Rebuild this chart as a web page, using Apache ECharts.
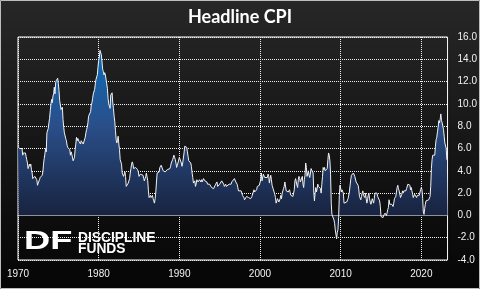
<!DOCTYPE html>
<html><head><meta charset="utf-8">
<script src="https://cdn.jsdelivr.net/npm/echarts@6/dist/echarts.min.js"></script>
<style>html,body{margin:0;padding:0;background:#000}#c{width:480px;height:289px;background:linear-gradient(#272727,#050505)}</style>
</head><body><div id="c"></div>
<script>
// Headline CPI, year-over-year %, monthly from Jan 1970
const startYear = 1970;
const cpi1970s = [
 6.2,6.1,6.0,6.1,6.0,6.0,6.0,5.4,5.6,5.6,5.7,5.6,
 5.3,5.0,4.7,4.2,4.4,4.6,4.4,4.6,4.1,3.8,3.3,3.3,
 3.3,3.5,3.5,3.5,3.2,2.7,2.9,2.9,3.2,3.4,3.5,3.4,
 3.6,3.9,4.6,5.1,5.5,6.0,5.7,7.4,7.4,7.8,8.3,8.7,
 9.4,10.0,10.4,10.1,10.7,10.9,11.5,10.9,11.9,12.1,12.2,12.3,
 11.8,11.2,10.3,10.2,9.5,9.4,9.7,8.6,7.9,7.4,7.4,6.9,
 6.7,6.3,6.1,6.0,6.2,5.9,5.4,5.7,5.5,5.5,4.9,4.9,
 5.2,5.9,6.4,7.0,6.7,6.9,6.8,6.6,6.6,6.4,6.7,6.7,
 6.8,6.4,6.4,6.5,7.0,7.4,7.7,7.9,8.3,8.9,8.9,9.0,
 9.3,9.9,10.1,10.5,10.9,10.9,11.3,11.8,12.2,12.1,12.6,13.3];
const cpi1980s = [
 13.9,14.2,14.8,14.7,14.4,14.4,13.1,12.9,12.6,12.8,12.6,12.5,
 11.8,11.4,10.5,10.0,9.8,9.6,10.8,10.8,11.0,10.1,9.6,8.9,
 8.4,7.6,6.8,6.5,6.7,7.1,6.4,5.9,5.0,5.1,4.6,3.8,
 3.7,3.5,3.6,3.9,3.5,2.6,2.5,2.6,2.9,2.9,3.3,3.8,
 4.2,4.6,4.8,4.6,4.2,4.2,4.2,4.3,4.3,4.3,4.1,3.9,
 3.5,3.5,3.7,3.7,3.8,3.8,3.6,3.3,3.1,3.2,3.5,3.8,
 3.9,3.1,2.2,1.6,1.5,1.8,1.6,1.6,1.8,1.5,1.3,1.1,
 1.5,2.1,3.0,3.8,3.9,3.7,3.9,4.3,4.4,4.5,4.5,4.4,
 4.0,3.9,3.9,3.9,3.9,4.0,4.1,4.0,4.2,4.2,4.2,4.4,
 4.7,4.8,5.0,5.1,5.4,5.2,5.0,4.7,4.3,4.5,4.7,4.6];
const cpi1990s = [
 5.2,5.3,5.2,4.7,4.4,4.7,4.8,5.6,6.2,6.3,6.3,6.1,
 5.7,5.3,4.9,4.9,5.0,4.7,4.4,3.8,3.4,2.9,3.0,3.1,
 2.6,2.8,3.2,3.2,3.0,3.1,3.2,3.1,3.0,3.2,3.0,2.9,
 3.3,3.2,3.1,3.2,3.2,3.0,2.8,2.8,2.7,2.8,2.7,2.7,
 2.5,2.5,2.5,2.4,2.3,2.5,2.8,2.9,3.0,2.6,2.7,2.7,
 2.8,2.9,2.9,3.1,3.2,3.0,2.8,2.6,2.5,2.8,2.6,2.5,
 2.7,2.7,2.8,2.9,2.9,2.8,3.0,2.9,3.0,3.0,3.3,3.3,
 3.0,3.0,2.8,2.5,2.2,2.3,2.2,2.2,2.2,2.1,1.8,1.7,
 1.6,1.4,1.4,1.4,1.7,1.7,1.7,1.6,1.5,1.5,1.5,1.6,
 1.7,1.6,1.7,2.3,2.1,2.0,2.1,2.3,2.6,2.6,2.6,2.7];
const cpi2000s = [
 2.7,3.2,3.8,3.1,3.2,3.7,3.7,3.4,3.5,3.4,3.4,3.4,
 3.7,3.5,2.9,3.3,3.6,3.2,2.7,2.7,2.6,2.1,1.9,1.6,
 1.1,1.1,1.5,1.6,1.2,1.1,1.5,1.8,1.5,2.0,2.2,2.4,
 2.6,3.0,3.0,2.2,2.1,2.1,2.1,2.2,2.3,2.0,1.8,1.9,
 1.9,1.7,1.7,2.3,3.1,3.3,3.0,2.7,2.5,3.2,3.5,3.3,
 3.0,3.0,3.1,3.5,2.8,2.5,3.2,3.6,4.7,4.3,3.5,3.4,
 4.0,3.6,3.4,3.5,4.2,4.3,4.1,3.8,2.1,1.3,2.0,2.5,
 2.1,2.4,2.8,2.6,2.7,2.7,2.4,2.0,2.8,3.5,4.3,4.1,
 4.3,4.0,4.0,3.9,4.2,5.0,5.6,5.4,4.9,3.7,1.1,0.1,
 0.0,0.2,-0.4,-0.7,-1.3,-1.4,-2.1,-1.5,-1.3,-0.2,1.8,2.7];
const cpi2010s = [
 2.6,2.1,2.3,2.2,2.0,1.1,1.2,1.1,1.1,1.2,1.1,1.5,
 1.6,2.1,2.7,3.2,3.6,3.6,3.6,3.8,3.9,3.5,3.4,3.0,
 2.9,2.9,2.7,2.3,1.7,1.7,1.4,1.7,2.0,2.2,1.8,1.7,
 1.6,2.0,1.5,1.1,1.4,1.8,2.0,1.5,1.2,1.0,1.2,1.5,
 1.6,1.1,1.5,2.0,2.1,2.1,2.0,1.7,1.7,1.7,1.3,0.8,
 -0.1,0.0,-0.1,-0.2,0.0,0.1,0.2,0.2,0.0,0.2,0.5,0.7,
 1.4,1.0,0.9,1.1,1.0,1.0,0.8,1.1,1.5,1.6,1.7,2.1,
 2.5,2.7,2.4,2.2,1.9,1.6,1.7,1.9,2.2,2.0,2.2,2.1,
 2.1,2.2,2.4,2.5,2.8,2.9,2.9,2.7,2.3,2.5,2.2,1.9,
 1.6,1.5,1.9,2.0,1.8,1.6,1.8,1.7,1.7,1.8,2.1,2.3];
const cpi2020s = [
 2.5,2.3,1.5,0.3,0.1,0.6,1.0,1.3,1.4,1.2,1.2,1.4,
 1.4,1.7,2.6,4.2,5.0,5.4,5.4,5.3,5.4,6.2,6.8,7.0,
 7.5,7.9,8.5,8.3,8.6,9.1,8.5,8.3,8.2,7.7,7.1,6.5,
 6.4,6.0,5.0,4.9];
const yMin = -4, yMax = 16, yStep = 2;
const xTickStep = 10;
const titleText = 'Headline CPI';
const logoMark = 'DF';
const logoLine1 = 'DISCIPLINE';
const logoLine2 = 'FUNDS';

const allValues = [].concat(cpi1970s, cpi1980s, cpi1990s, cpi2000s, cpi2010s, cpi2020s);
const seriesData = allValues.map((v, i) => [startYear + i / 12, v]);
const xMax = startYear + (allValues.length - 1) / 12;

const chart = echarts.init(document.getElementById('c'), null, {renderer: 'canvas'});
const labelFont = '"Liberation Sans", Arial, sans-serif';
chart.setOption({
  animation: false,
  title: {
    text: titleText, left: 'center', top: 3,
    textStyle: {color: '#ffffff', fontSize: 18, fontWeight: 'bold', fontFamily: 'Lato, "Liberation Sans", sans-serif'}
  },
  grid: {left: 18, right: 31, top: 37, bottom: 29, show: true, borderColor: '#ffffff', borderWidth: 1, backgroundColor: 'transparent'},
  xAxis: {
    type: 'value', min: startYear, max: xMax, interval: xTickStep,
    axisLine: {show: true, onZero: true, lineStyle: {color: '#ffffff', width: 1}},
    axisTick: {show: false},
    splitLine: {show: true, lineStyle: {color: '#f0f0f0', type: [1, 1], width: 1}},
    axisLabel: {color: '#f2f2f2', fontSize: 10, fontFamily: labelFont, margin: 9, showMaxLabel: false,
      formatter: v => (Math.abs(v % xTickStep) < 1e-6 ? String(v) : '')}
  },
  yAxis: {
    type: 'value', position: 'right', min: yMin, max: yMax, interval: yStep,
    axisLine: {show: false}, axisTick: {show: false},
    splitLine: {show: true, lineStyle: {color: '#f0f0f0', type: [1, 1], width: 1}},
    axisLabel: {color: '#f2f2f2', fontSize: 10, fontFamily: labelFont, margin: 10, formatter: v => v.toFixed(1)}
  },
  series: [{
    type: 'line', data: seriesData, showSymbol: false, symbol: 'none',
    lineStyle: {color: '#f2f2f2', width: 1},
    areaStyle: {
      opacity: 1,
      color: new echarts.graphic.LinearGradient(0, 50, 0, 215, [
        {offset: 0, color: '#0a6cba'},
        {offset: 0.45, color: '#2a4f8a'},
        {offset: 1, color: '#18233f'}
      ], true)
    },
    z: 3
  }],
  graphic: [
    {type: 'text', x: 24, y: 242, scaleX: 1.45, z: 50,
     style: {text: logoMark, fill: '#ffffff', font: 'bold 25px "Liberation Sans", Arial, sans-serif', textVerticalAlign: 'middle'}},
    {type: 'text', x: 78, y: 238.5, z: 50,
     style: {text: logoLine1, fill: '#ffffff', font: 'bold 13.8px "Liberation Sans", Arial, sans-serif', textVerticalAlign: 'middle'}},
    {type: 'text', x: 78, y: 249, z: 50,
     style: {text: logoLine2, fill: '#ffffff', font: 'bold 13.8px "Liberation Sans", Arial, sans-serif', textVerticalAlign: 'middle'}},
    {type: 'rect', z: 100, silent: true,
     shape: {x: 0.5, y: 0.5, width: 479, height: 288},
     style: {fill: 'none', stroke: '#bdbdbd', lineWidth: 1}}
  ]
});
</script>
</body></html>
